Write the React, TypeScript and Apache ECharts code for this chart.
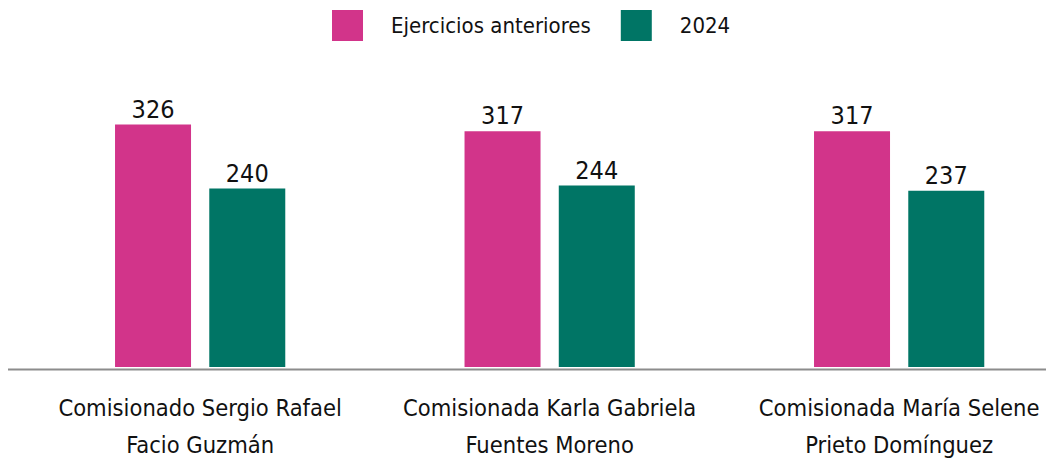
import React, { useEffect, useRef } from "react";
import * as echarts from "echarts";

const categories = [
  "Comisionado Sergio Rafael\nFacio Guzmán",
  "Comisionada Karla Gabriela\nFuentes Moreno",
  "Comisionada María Selene\nPrieto Domínguez",
];
const seriesNames = ["Ejercicios anteriores", "2024"];
const previousValues = [326, 317, 317];
const currentValues = [240, 244, 237];

const FONT = "'Liberation Sans Narrow', 'DejaVu Sans Condensed', 'Arial Narrow', sans-serif";
const PINK = "#D2348A";
const GREEN = "#007565";

export default function App() {
  const ref = useRef<HTMLDivElement>(null);
  useEffect(() => {
    if (!ref.current) return;
    const chart = echarts.init(ref.current, undefined, { renderer: "svg" });
    const baseY = 361.5;
    chart.setOption({
      animation: false,
      textStyle: { fontFamily: FONT },
      legend: {
        left: 324,
        top: 2,
        padding: 0,
        itemWidth: 31,
        itemHeight: 31,
        itemGap: 30,
        icon: "rect",
        textStyle: { fontFamily: FONT, fontSize: 22, color: "#111", padding: [0, 0, 0, 23] },
        data: seriesNames,
      },
      grid: { left: 17.4, width: 1048.5, top: 61.5, height: 300, containLabel: false },
      xAxis: {
        type: "category",
        data: categories,
        axisLine: { show: false },
        axisTick: { show: false },
        axisLabel: {
          fontFamily: FONT,
          fontSize: 23.5,
          color: "#111",
          lineHeight: 37,
          margin: 22,
          interval: 0,
        },
      },
      yAxis: {
        type: "value",
        min: 0,
        max: 400,
        show: false,
        splitLine: { show: false },
      },
      series: [
        {
          name: seriesNames[0],
          type: "bar",
          data: previousValues,
          barWidth: 76,
          barGap: "24%",
          itemStyle: { color: PINK },
          label: { show: true, position: "top", distance: 3, fontFamily: FONT, fontSize: 25, color: "#111" },
        },
        {
          name: seriesNames[1],
          type: "bar",
          data: currentValues,
          barWidth: 76,
          itemStyle: { color: GREEN },
          label: { show: true, position: "top", distance: 3, fontFamily: FONT, fontSize: 25, color: "#111" },
        },
      ],
      graphic: [
        {
          type: "line",
          shape: { x1: 0, y1: baseY, x2: 1046, y2: baseY },
          style: { stroke: "#8c8c8c", lineWidth: 2 },
          z: 100,
        },
      ],
    });
    return () => chart.dispose();
  }, []);
  return (
    <div style={{ width: 1046, height: 455, overflow: "hidden" }}>
      <div ref={ref} style={{ width: 1066, height: 455 }} />
    </div>
  );
}
